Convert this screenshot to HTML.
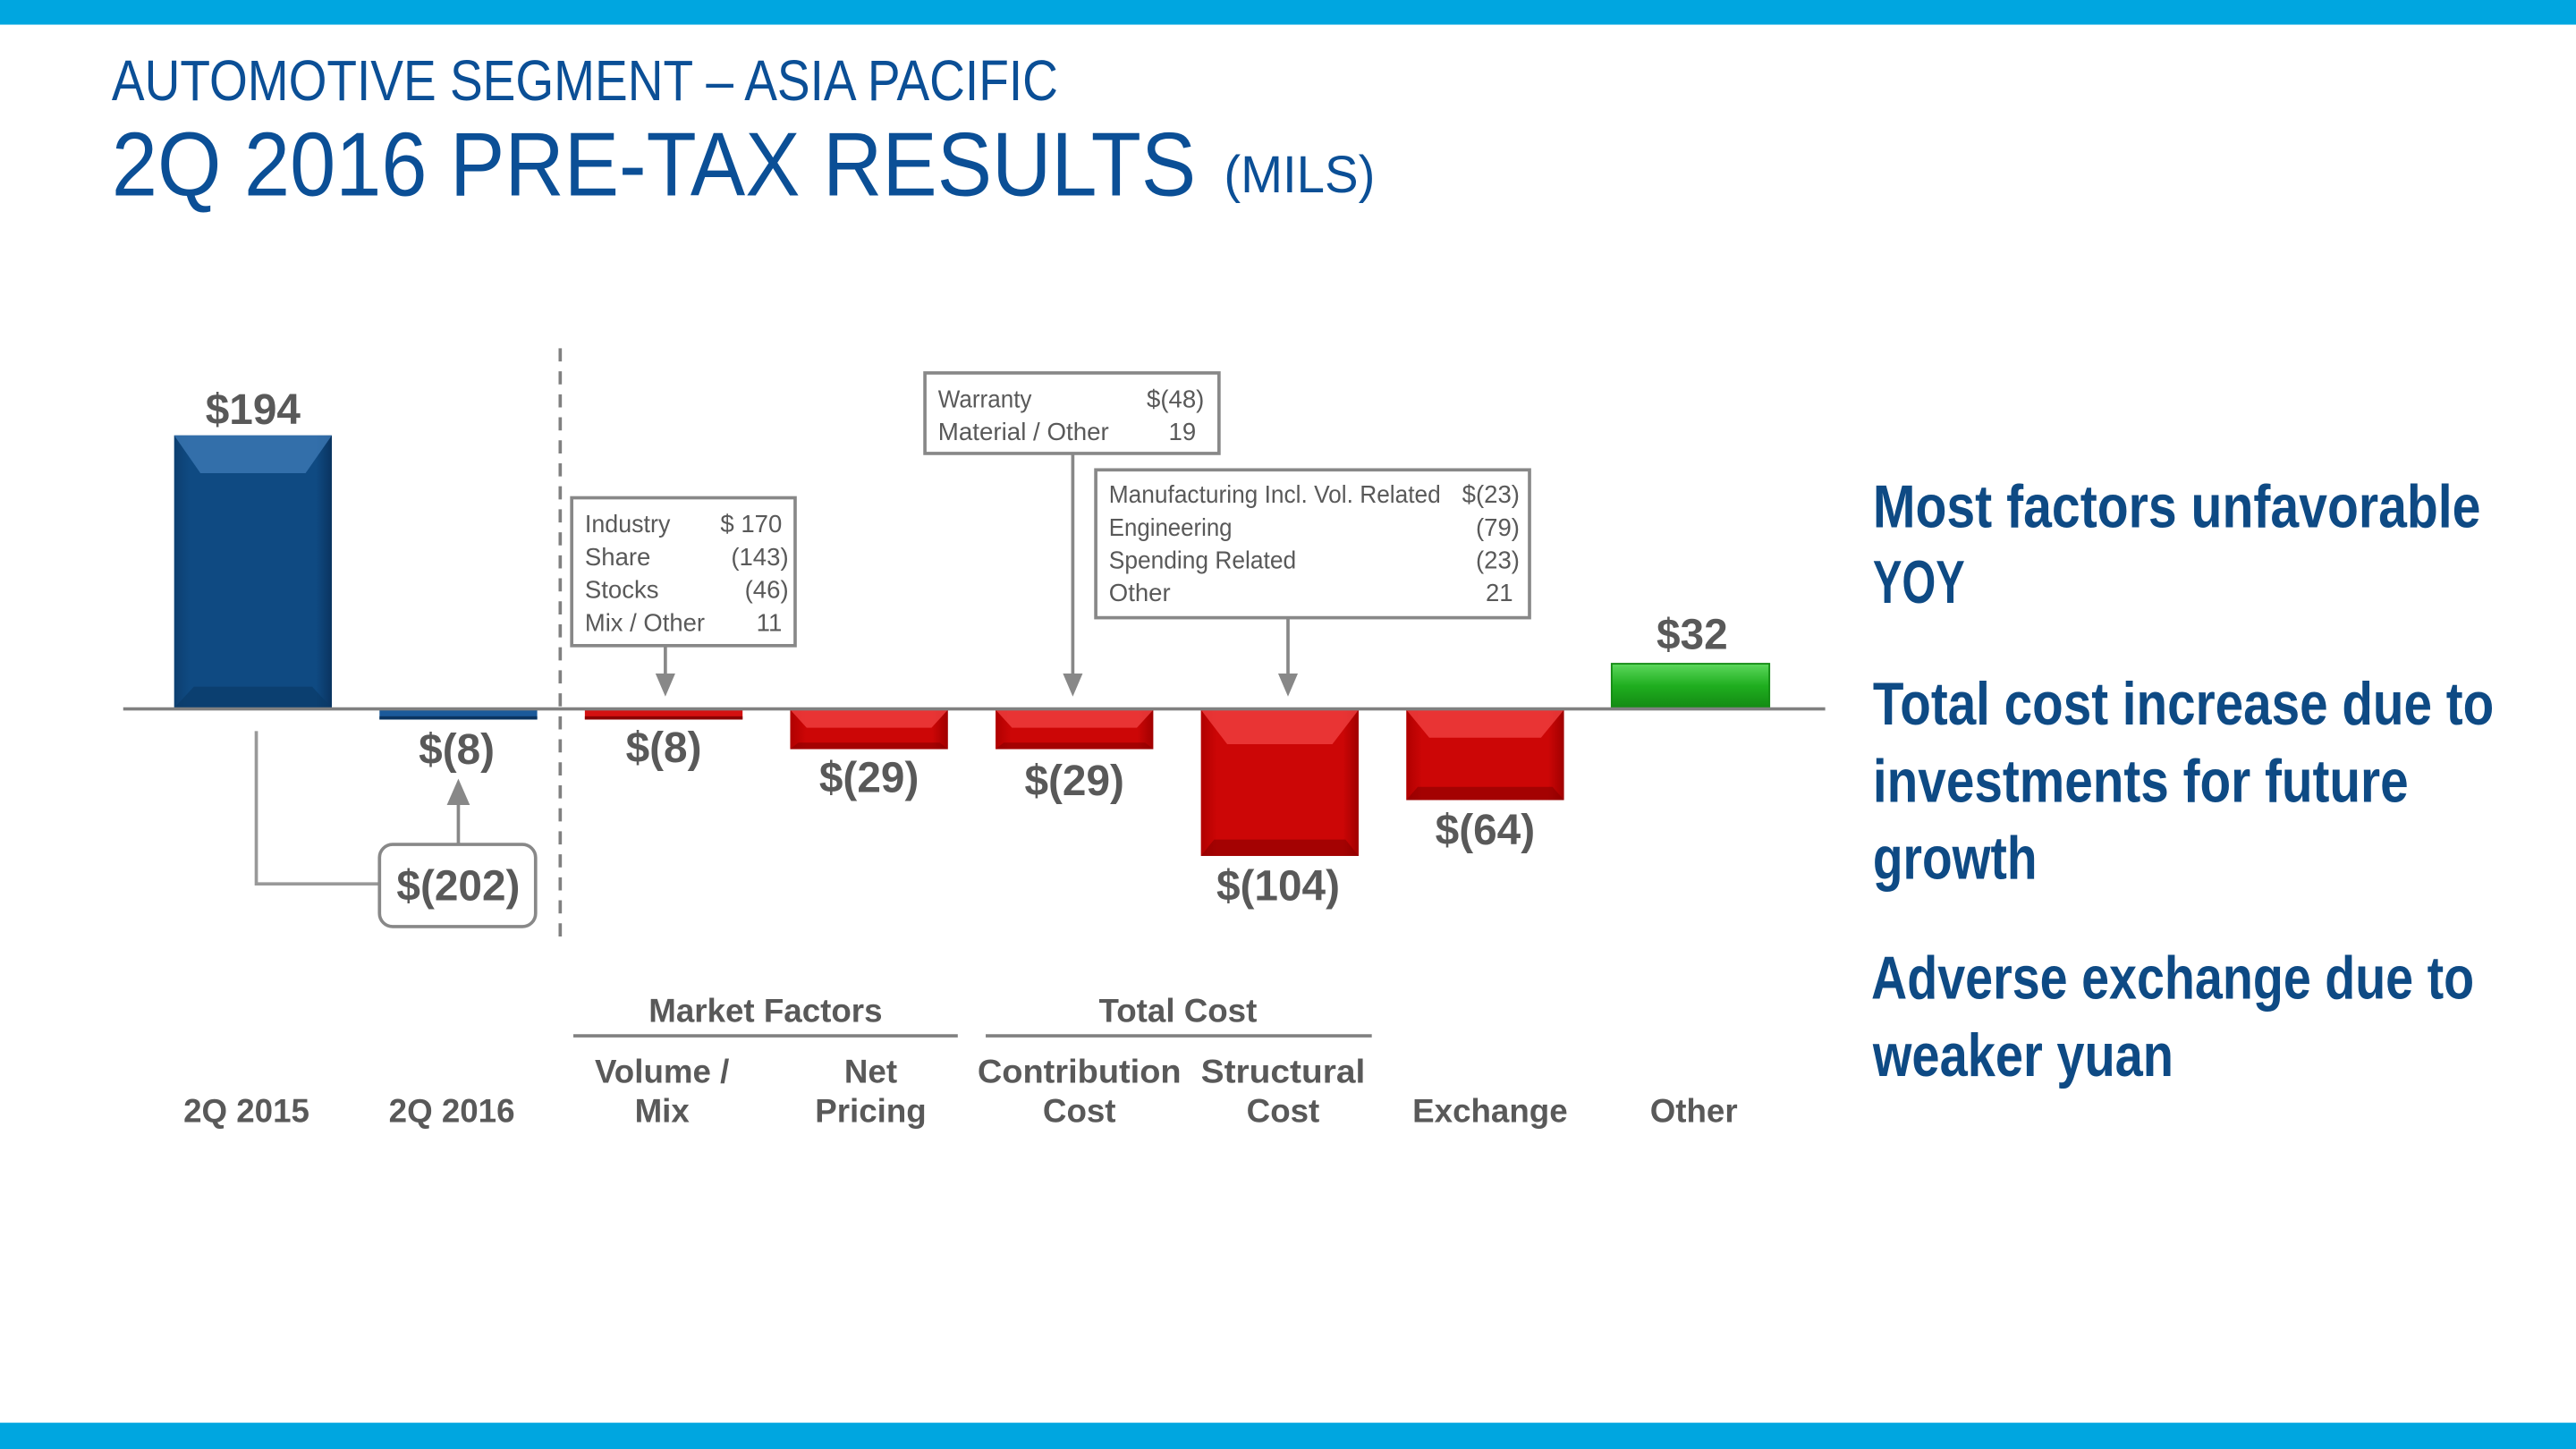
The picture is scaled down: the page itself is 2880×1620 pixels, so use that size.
<!DOCTYPE html>
<html><head><meta charset="utf-8"><style>
html,body{margin:0;padding:0;background:#fff;}
svg{display:block;}
text{font-family:"Liberation Sans Narrow","Liberation Sans",sans-serif;}
.v{font-weight:bold;fill:#595959;font-size:26px;text-anchor:middle;}
.c{font-weight:bold;fill:#595959;font-size:20px;text-anchor:middle;}
.b{fill:#595959;font-size:15px;}
.e{text-anchor:end;}
.r{font-weight:bold;fill:#0e4a84;font-size:37px;}
</style></head><body>
<svg width="2880" height="1620" viewBox="0 0 1568 882" xmlns="http://www.w3.org/2000/svg">
<defs>
<linearGradient id="bl" x1="0" y1="0" x2="1" y2="0"><stop offset="0" stop-color="#0d3f70"/><stop offset="0.1" stop-color="#0f4a82"/><stop offset="0.9" stop-color="#0f4a82"/><stop offset="1" stop-color="#0a3460"/></linearGradient>
<linearGradient id="rd" x1="0" y1="0" x2="1" y2="0"><stop offset="0" stop-color="#b00000"/><stop offset="0.1" stop-color="#cc0606"/><stop offset="0.9" stop-color="#cc0606"/><stop offset="1" stop-color="#a00000"/></linearGradient>
<linearGradient id="gr" x1="0" y1="0" x2="0" y2="1"><stop offset="0" stop-color="#5cd85c"/><stop offset="0.5" stop-color="#1fae1f"/><stop offset="1" stop-color="#138a13"/></linearGradient>
</defs>
<rect x="0" y="0" width="1568" height="15" fill="#00a6e0"/>
<rect x="0" y="866" width="1568" height="16" fill="#00a6e0"/>
<text x="68" y="61" font-size="35" fill="#0b4f96" textLength="576" lengthAdjust="spacingAndGlyphs">AUTOMOTIVE SEGMENT – ASIA PACIFIC</text>
<text x="68" y="119" font-size="55" fill="#0b4f96" textLength="660" lengthAdjust="spacingAndGlyphs">2Q 2016 PRE-TAX RESULTS</text>
<text x="745" y="117" font-size="32" fill="#0b4f96" textLength="92" lengthAdjust="spacingAndGlyphs">(MILS)</text>

<rect x="106" y="265" width="96" height="166" fill="url(#bl)"/>
<polygon points="106,265 202,265 186,288 122,288" fill="#3c78b4" opacity="0.8"/>
<polygon points="106,431 202,431 190,418 118,418" fill="#0a3a68" opacity="0.7"/>
<rect x="231" y="432" width="96" height="6" fill="#1b5a9a"/>
<rect x="231" y="436" width="96" height="2" fill="#0a3460"/>

<rect x="356" y="432" width="96" height="6" fill="#d41010"/>
<rect x="356" y="436" width="96" height="2" fill="#8a0000"/>

<g>
<rect x="481" y="432" width="96" height="24" fill="url(#rd)"/>
<polygon points="481,432 577,432 567,443 491,443" fill="#f04040" opacity="0.8"/>
<polygon points="481,456 577,456 572,452 486,452" fill="#880000" opacity="0.6"/>
</g>
<g>
<rect x="606" y="432" width="96" height="24" fill="url(#rd)"/>
<polygon points="606,432 702,432 692,443 616,443" fill="#f04040" opacity="0.8"/>
<polygon points="606,456 702,456 697,452 611,452" fill="#880000" opacity="0.6"/>
</g>
<g>
<rect x="731" y="432" width="96" height="89" fill="url(#rd)"/>
<polygon points="731,432 827,432 811,453 747,453" fill="#f04040" opacity="0.8"/>
<polygon points="731,521 827,521 819,511 739,511" fill="#880000" opacity="0.6"/>
</g>
<g>
<rect x="856" y="432" width="96" height="55" fill="url(#rd)"/>
<polygon points="856,432 952,432 938,449 870,449" fill="#f04040" opacity="0.8"/>
<polygon points="856,487 952,487 945,479 863,479" fill="#880000" opacity="0.6"/>
</g>
<g>
<rect x="981" y="404" width="96" height="27" fill="url(#gr)"/>
<rect x="981" y="404" width="96" height="27" fill="none" stroke="#138a13" stroke-width="1"/>
</g>

<line x1="75" y1="431.5" x2="1111" y2="431.5" stroke="#808080" stroke-width="2"/>
<line x1="341" y1="212" x2="341" y2="572" stroke="#808080" stroke-width="2" stroke-dasharray="8,6"/>

<polyline points="156,445 156,538 231,538" fill="none" stroke="#999" stroke-width="2"/>
<line x1="279" y1="514" x2="279" y2="488" stroke="#888" stroke-width="2"/>
<polygon points="272,490 286,490 279,474" fill="#888"/>
<rect x="231" y="514" width="95" height="50" rx="8" fill="#fff" stroke="#888" stroke-width="2"/>

<rect x="348" y="303" width="136" height="90" fill="#fff" stroke="#888" stroke-width="2"/>
<line x1="405" y1="393" x2="405" y2="412" stroke="#888" stroke-width="2"/>
<polygon points="399,410 411,410 405,424" fill="#888"/>
<text class="b" x="356" y="324" textLength="52" lengthAdjust="spacingAndGlyphs">Industry</text><text class="b e" x="476" y="324">$ 170</text>
<text class="b" x="356" y="344">Share</text><text class="b e" x="480" y="344">(143)</text>
<text class="b" x="356" y="364">Stocks</text><text class="b e" x="480" y="364">(46)</text>
<text class="b" x="356" y="384" textLength="73" lengthAdjust="spacingAndGlyphs">Mix / Other</text><text class="b e" x="476" y="384">11</text>

<rect x="563" y="227" width="179" height="49" fill="#fff" stroke="#888" stroke-width="2"/>
<line x1="653" y1="276" x2="653" y2="412" stroke="#888" stroke-width="2"/>
<polygon points="647,410 659,410 653,424" fill="#888"/>
<text class="b" x="571" y="248" textLength="57" lengthAdjust="spacingAndGlyphs">Warranty</text><text class="b e" x="733" y="248">$(48)</text>
<text class="b" x="571" y="268" textLength="104" lengthAdjust="spacingAndGlyphs">Material / Other</text><text class="b e" x="728" y="268">19</text>

<rect x="667" y="286" width="264" height="90" fill="#fff" stroke="#888" stroke-width="2"/>
<line x1="784" y1="376" x2="784" y2="412" stroke="#888" stroke-width="2"/>
<polygon points="778,410 790,410 784,424" fill="#888"/>
<text class="b" x="675" y="306" textLength="202" lengthAdjust="spacingAndGlyphs">Manufacturing Incl. Vol. Related</text><text class="b e" x="925" y="306">$(23)</text>
<text class="b" x="675" y="326" textLength="75" lengthAdjust="spacingAndGlyphs">Engineering</text><text class="b e" x="925" y="326">(79)</text>
<text class="b" x="675" y="346" textLength="114" lengthAdjust="spacingAndGlyphs">Spending Related</text><text class="b e" x="925" y="346">(23)</text>
<text class="b" x="675" y="366">Other</text><text class="b e" x="921" y="366">21</text>

<text class="v" x="154" y="258">$194</text>
<text class="v" x="278" y="465">$(8)</text>
<text class="v" x="404" y="464">$(8)</text>
<text class="v" x="529" y="482">$(29)</text>
<text class="v" x="654" y="484">$(29)</text>
<text class="v" x="778" y="548">$(104)</text>
<text class="v" x="904" y="514">$(64)</text>
<text class="v" x="1030" y="395">$32</text>
<text class="v" x="279" y="548">$(202)</text>

<text class="c" x="466" y="622">Market Factors</text>
<line x1="349" y1="630.5" x2="583" y2="630.5" stroke="#808080" stroke-width="2"/>
<text class="c" x="717" y="622">Total Cost</text>
<line x1="600" y1="630.5" x2="835" y2="630.5" stroke="#808080" stroke-width="2"/>
<text class="c" x="150" y="683">2Q 2015</text>
<text class="c" x="275" y="683">2Q 2016</text>
<text class="c" x="403" y="659">Volume /</text><text class="c" x="403" y="683">Mix</text>
<text class="c" x="530" y="659">Net</text><text class="c" x="530" y="683">Pricing</text>
<text class="c" x="657" y="659" textLength="124" lengthAdjust="spacingAndGlyphs">Contribution</text><text class="c" x="657" y="683">Cost</text>
<text class="c" x="781" y="659" textLength="100" lengthAdjust="spacingAndGlyphs">Structural</text><text class="c" x="781" y="683">Cost</text>
<text class="c" x="907" y="683">Exchange</text>
<text class="c" x="1031" y="683">Other</text>

<text class="r" x="1140" y="321" textLength="370" lengthAdjust="spacingAndGlyphs">Most factors unfavorable</text>
<text class="r" x="1140" y="367" textLength="56" lengthAdjust="spacingAndGlyphs">YOY</text>
<text class="r" x="1140" y="441" textLength="378" lengthAdjust="spacingAndGlyphs">Total cost increase due to</text>
<text class="r" x="1140" y="488" textLength="326" lengthAdjust="spacingAndGlyphs">investments for future</text>
<text class="r" x="1140" y="535" textLength="100" lengthAdjust="spacingAndGlyphs">growth</text>
<text class="r" x="1139" y="608" textLength="367" lengthAdjust="spacingAndGlyphs">Adverse exchange due to</text>
<text class="r" x="1140" y="655" textLength="183" lengthAdjust="spacingAndGlyphs">weaker yuan</text>
</svg>
</body></html>
